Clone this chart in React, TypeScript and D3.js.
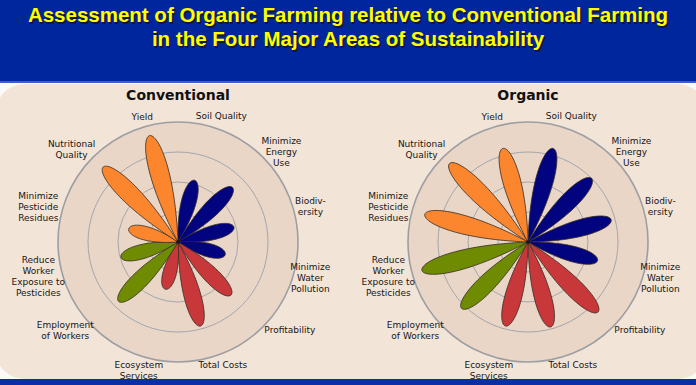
import * as d3 from "d3";
import React, { useRef, useEffect } from "react";

// categories clockwise, starting just right of 12 o'clock
const categories = [
  "Soil Quality",
  "Minimize Energy Use",
  "Biodiversity",
  "Minimize Water Pollution",
  "Profitability",
  "Total Costs",
  "Ecosystem Services",
  "Employment of Workers",
  "Reduce Worker Exposure to Pesticides",
  "Minimize Pesticide Residues",
  "Nutritional Quality",
  "Yield",
];

const labelLines = [
  ["Soil Quality"],
  ["Minimize", "Energy", "Use"],
  ["Biodiv-", "ersity"],
  ["Minimize", "Water", "Pollution"],
  ["Profitability"],
  ["Total Costs"],
  ["Ecosystem", "Services"],
  ["Employment", "of Workers"],
  ["Reduce", "Worker", "Exposure to", "Pesticides"],
  ["Minimize", "Pesticide", "Residues"],
  ["Nutritional", "Quality"],
  ["Yield"],
];

// label placement: angle shift (deg) from the category centre and distance from chart centre
const labelShift = [4, 4, 0, 0, -7, -5, 2, 7, 1, -1, -4, -1];
const labelDist = [133, 137, 137, 137, 142, 131, 134, 143, 144, 144, 141, 130];

const areas = ["env", "env", "env", "env", "econ", "econ", "econ", "well", "well", "prod", "prod", "prod"];
const areaColors = { env: "#02037e", econ: "#c8383b", well: "#6f8b02", prod: "#fc862e" };

const conventional = [2.13, 2.57, 1.93, 1.63, 2.5, 2.9, 1.63, 2.8, 1.97, 1.7, 3.53, 3.67];
const organic = [3.23, 3.0, 2.87, 2.4, 3.3, 2.93, 2.9, 3.13, 3.66, 3.56, 3.7, 3.23];

const gridTicks = [1, 2, 3, 4];
const titleLines = [
  "Assessment of Organic Farming relative to Conventional Farming",
  "in the Four Major Areas of Sustainability",
];

export default function App() {
  const svgRef = useRef<SVGSVGElement | null>(null);

  useEffect(() => {
    document.body.style.margin = "0";
    const width = 696;
    const height = 385;
    const svg = d3.select(svgRef.current).attr("width", width).attr("height", height);
    svg.selectAll("*").remove();

    // page frame
    svg.append("rect").attr("width", width).attr("height", height).attr("fill", "#fcfaf8");
    svg.append("rect").attr("width", width).attr("height", 82).attr("fill", "#00269e");
    svg.append("rect").attr("y", 81).attr("width", width).attr("height", 2).attr("fill", "#3c5fc6");
    svg.append("rect")
      .attr("x", -4).attr("y", 84).attr("width", 710).attr("height", 295)
      .attr("rx", 28).attr("fill", "#f3e4d8");
    svg.append("rect").attr("y", 379).attr("width", width).attr("height", 6).attr("fill", "#0a2ea4");

    // title with drop shadow
    titleLines.forEach((t, i) => {
      const y = 22 + i * 24;
      svg.append("text")
        .attr("x", width / 2 + 1.5).attr("y", y + 1.5)
        .attr("text-anchor", "middle")
        .attr("font-family", "Liberation Sans, Arial, sans-serif")
        .attr("font-weight", "bold").attr("font-size", 20.5)
        .attr("fill", "#151525").attr("opacity", 0.85)
        .text(t);
      svg.append("text")
        .attr("x", width / 2).attr("y", y)
        .attr("text-anchor", "middle")
        .attr("font-family", "Liberation Sans, Arial, sans-serif")
        .attr("font-weight", "bold").attr("font-size", 20.5)
        .attr("fill", "#ffff00")
        .text(t);
    });

    const r = d3.scaleLinear().domain([0, 4]).range([0, 120]);
    const angle = d3.scaleBand().domain(categories).range([0, 2 * Math.PI]);
    const mid = (c: string) => angle(c)! + angle.bandwidth() / 2;

    const petalLine = d3.lineRadial<[number, number]>()
      .angle(d => d[0])
      .radius(d => d[1])
      .curve(d3.curveLinearClosed);

    const petalPoints = (a0: number, len: number) => {
      const hw = 4.5 + 0.045 * len;
      const n = 48;
      const pts: [number, number][] = [];
      for (const side of [1, -1]) {
        for (let k = 0; k <= n; k++) {
          const i = side === 1 ? k : n - k;
          const t = (1 - Math.cos((Math.PI * i) / n)) / 2;
          const s = t * len;
          const p = (side * hw * t * Math.sqrt(1 - t)) / 0.3849;
          pts.push([a0 + Math.atan2(p, s), Math.hypot(s, p)]);
        }
      }
      return pts;
    };

    const drawChart = (cx: number, cy: number, title: string, values: number[]) => {
      const g = svg.append("g").attr("transform", `translate(${cx},${cy})`);

      svg.append("text")
        .attr("x", cx).attr("y", 100)
        .attr("text-anchor", "middle")
        .attr("font-family", "DejaVu Sans, sans-serif")
        .attr("font-weight", "bold").attr("font-size", 14)
        .attr("fill", "#111")
        .text(title);

      g.append("circle").attr("r", r(4)).attr("fill", "#e9d6c7")
        .attr("stroke", "#9d9ea2").attr("stroke-width", 1.6);
      g.selectAll("circle.grid")
        .data(gridTicks.slice(0, -1))
        .join("circle")
        .attr("class", "grid")
        .attr("r", d => r(d))
        .attr("fill", "none")
        .attr("stroke", "#a4a6ad")
        .attr("stroke-width", 1);

      g.selectAll("path.petal")
        .data(categories)
        .join("path")
        .attr("class", "petal")
        .attr("d", (c, i) => petalLine(petalPoints(mid(c), r(values[i]))))
        .attr("fill", (c, i) => areaColors[areas[i]])
        .attr("stroke", "#35291f")
        .attr("stroke-width", 0.8);

      g.append("circle").attr("r", 1.8).attr("fill", "#1a1410");

      categories.forEach((c, i) => {
        const lines = labelLines[i];
        const a = mid(c) + (labelShift[i] * Math.PI) / 180;
        const R = labelDist[i];
        const t = g.append("text")
          .attr("transform", `translate(${R * Math.sin(a)},${-R * Math.cos(a)})`)
          .attr("text-anchor", "middle")
          .attr("font-family", "DejaVu Sans, sans-serif")
          .attr("font-size", 9)
          .attr("fill", "#161616");
        lines.forEach((ln, j) => {
          t.append("tspan")
            .attr("x", 0)
            .attr("y", (j - (lines.length - 1) / 2) * 11)
            .attr("dy", "0.35em")
            .text(ln);
        });
      });
    };

    drawChart(178, 242, "Conventional", conventional);
    drawChart(528, 242, "Organic", organic);
  }, []);

  return <svg ref={svgRef} style={{ display: "block" }} />;
}
